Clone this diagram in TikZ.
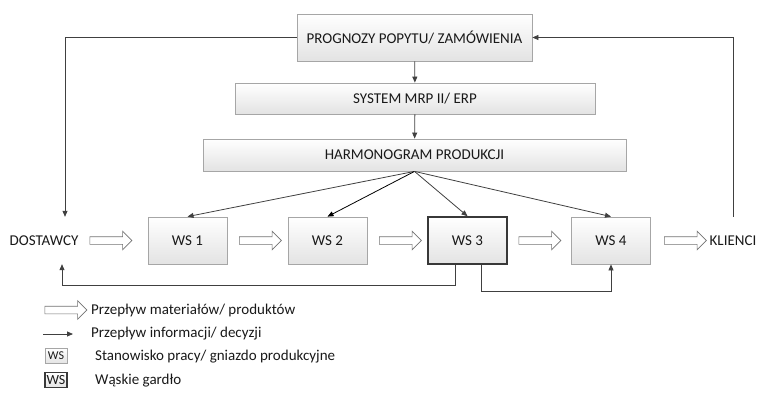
\documentclass[tikz,border=0pt]{standalone}
\usepackage{fontspec}
\setmainfont{Carlito}
\usepackage{xcolor}
\usetikzlibrary{arrows.meta, shapes.arrows}

\definecolor{boxline}{HTML}{A6A6A6}
\definecolor{infoline}{HTML}{404040}

\tikzset{
  wsbox/.style={draw=boxline, line width=0.8pt, top color=white, bottom color=black!11,
    inner sep=0pt, minimum width=79pt, minimum height=47pt},
  bottleneck/.style={wsbox, draw=black!78, line width=1.6pt},
  flow/.style={single arrow, draw=black!55, fill=white, line width=0.6pt, inner sep=0pt,
    text height=7pt, text depth=0pt, minimum width=18pt, single arrow head extend=5.5pt,
    minimum height=42pt},
  info/.style={draw=infoline, line width=0.8pt, -{Triangle[length=6pt, width=5pt]}},
  endtext/.style={inner sep=0pt, minimum height=47pt},
  legtext/.style={anchor=west, inner sep=0pt}
}

\begin{document}
\begin{tikzpicture}[x=1pt, y=-1pt, every node/.style={font=\fontsize{15}{17}\selectfont, text=black!90}]
\useasboundingbox (0,0) rectangle (757,398);
% Planning levels
\node[wsbox, minimum width=235pt] (prog) at (414.5,37.5) {PROGNOZY POPYTU/ ZAMÓWIENIA};
\node[wsbox, minimum width=360pt, minimum height=31pt] (mrp) at (415,98.5) {SYSTEM MRP II/ ERP};
\node[wsbox, minimum width=423pt, minimum height=32pt] (harm) at (414.5,155) {HARMONOGRAM PRODUKCJI};
% Work stations
\node[wsbox] (ws1) at (187.5,240.5) {WS 1};
\node[wsbox] (ws2) at (327.5,240.5) {WS 2};
\node[bottleneck] (ws3) at (467.5,240.5) {WS 3};
\node[wsbox] (ws4) at (611,240.5) {WS 4};
\node[endtext] (dost) at (44,240.5) {DOSTAWCY};
\node[endtext] (klienci) at (733,240.5) {KLIENCI};
% Material flow
\node[flow] (f0) at (109,240.5) {};
\node[flow] (f1) at (258.5,240.5) {};
\node[flow] (f2) at (398.5,240.5) {};
\node[flow] (f3) at (538,240.5) {};
\node[flow] (f4) at (683.5,240.5) {};
% Information flow
\draw[info] (prog) -- (mrp);
\draw[info] (mrp) -- (harm);
\draw[info] (harm.south) -- (ws1.north);
\draw[info, draw=black] (harm.south) -- (ws2.north);
\draw[info] (harm.south) -- (ws3.north);
\draw[info] (harm.south) -- (ws4.north);
\draw[info] (prog.west) -| ([xshift=21pt]dost.north);
\draw[info] (klienci.north) |- (prog.east);
\draw[info] ([xshift=-12pt]ws3.south) -- ++(0,21) -| ([xshift=18pt]dost.south);
\draw[info] ([xshift=14pt]ws3.south) -- ++(0,27) -| (ws4.south);
% Legend
\node[flow] (lflow) at (64,310) {};
\node[legtext] (lflowtxt) at (91,310) {Przepływ materiałów/ produktów};
\coordinate (linfoa) at (43,334);
\coordinate (linfob) at (73,334);
\draw[info] (linfoa) -- (linfob);
\node[legtext] (linfotxt) at (91,334) {Przepływ informacji/ decyzji};
\node[wsbox, minimum width=22pt, minimum height=15pt, font=\fontsize{12}{13}\selectfont] (lws) at (56,356) {WS};
\node[legtext] (lwstxt) at (95,357) {Stanowisko pracy/ gniazdo produkcyjne};
\node[bottleneck, line width=1.2pt, minimum width=22pt, minimum height=15pt, font=\fontsize{14}{15}\selectfont] (lbn) at (56,380) {WS};
\node[legtext] (lbntxt) at (95,381) {Wąskie gardło};
\end{tikzpicture}
\end{document}
